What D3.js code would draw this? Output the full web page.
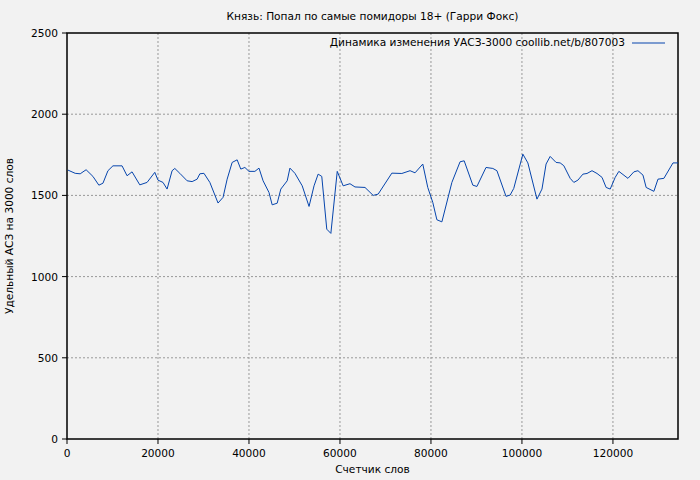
<!DOCTYPE html>
<html><head><meta charset="utf-8">
<script src="https://cdn.jsdelivr.net/npm/d3@7"></script>
<style>body{margin:0;background:#f2f2f2}text{font-family:"DejaVu Sans",sans-serif;font-size:10.6px;fill:#000}</style>
</head><body>
<svg id="c" width="700" height="480"></svg>
<script>
// данные: счетчик слов и удельный АСЗ
const words = [200,1800,2900,4200,5700,7000,7900,9000,10100,12100,13200,14300,16000,17600,19300,20000,21100,22000,23100,23700,24800,26400,27500,28600,29200,30100,31400,33200,34300,35200,36300,37400,38200,39100,40000,41300,42200,43100,44400,45100,46200,47000,48400,49000,50100,51700,53200,54300,55200,56000,57100,58000,59400,60700,62200,63300,65500,67300,68400,71400,73600,75400,76500,78200,79300,80400,81300,82400,84600,86400,87300,89200,90100,92100,93600,94500,96500,97400,98200,100200,101300,103300,104400,105300,106200,107500,108400,109200,110600,111400,112300,113400,114300,115400,116500,117600,118500,119400,120500,121300,123300,124600,125500,126600,127300,129000,129900,131200,133200,134300];
const asz = [1656,1636,1633,1658,1617,1563,1575,1652,1682,1682,1621,1645,1565,1580,1642,1594,1580,1539,1652,1666,1636,1590,1585,1600,1633,1636,1580,1453,1488,1600,1703,1719,1662,1672,1648,1648,1668,1590,1518,1442,1452,1539,1590,1668,1636,1559,1432,1559,1631,1617,1292,1266,1648,1559,1572,1552,1549,1500,1508,1637,1635,1652,1639,1693,1549,1457,1350,1337,1580,1707,1713,1563,1555,1672,1666,1652,1494,1502,1543,1754,1700,1477,1539,1693,1740,1703,1700,1683,1605,1580,1594,1631,1635,1652,1635,1611,1549,1539,1611,1648,1605,1645,1652,1625,1549,1525,1600,1605,1700,1700];
const xTicks = [0,20000,40000,60000,80000,100000,120000];
const yTicks = [0,500,1000,1500,2000,2500];
const title = "Князь: Попал по самые помидоры 18+ (Гарри Фокс)";
const legendText = "Динамика изменения УАСЗ-3000 coollib.net/b/807003";

const svg = d3.select('#c');
const m = {l:67, r:678, t:33, b:439};
const x = d3.scaleLinear().domain([0,134300]).range([m.l,m.r]);
const y = d3.scaleLinear().domain([0,2500]).range([m.b,m.t]);

svg.append('rect').attr('width',700).attr('height',480).attr('fill','#f2f2f2');

// сетка
svg.selectAll('.gx').data(xTicks.slice(1)).enter().append('line')
    .attr('x1',d=>x(d)).attr('x2',d=>x(d)).attr('y1',m.t).attr('y2',m.b)
    .attr('stroke','#999').attr('stroke-dasharray','2,2');
svg.selectAll('.gy').data(yTicks.slice(1,-1)).enter().append('line')
    .attr('y1',d=>y(d)).attr('y2',d=>y(d)).attr('x1',m.l).attr('x2',m.r)
    .attr('stroke','#999').attr('stroke-dasharray','2,2');

svg.append('rect').attr('x',m.l).attr('y',m.t).attr('width',m.r-m.l).attr('height',m.b-m.t)
    .attr('fill','none').attr('stroke','#000').attr('stroke-width',1.5);

// тики
svg.selectAll('.tx').data(xTicks).enter().append('line')
    .attr('x1',d=>x(d)).attr('x2',d=>x(d)).attr('y1',m.b).attr('y2',m.b+5).attr('stroke','#000');
svg.selectAll('.lx').data(xTicks).enter().append('text')
    .attr('x',d=>x(d)).attr('y',m.b+18).attr('text-anchor','middle').text(d=>d);
svg.selectAll('.ty').data(yTicks).enter().append('line')
    .attr('y1',d=>y(d)).attr('y2',d=>y(d)).attr('x1',m.l-5).attr('x2',m.l).attr('stroke','#000');
svg.selectAll('.ly').data(yTicks).enter().append('text')
    .attr('x',m.l-9).attr('y',d=>y(d)+4).attr('text-anchor','end').text(d=>d);

svg.append('text').attr('x',(m.l+m.r)/2).attr('y',20).attr('text-anchor','middle').text(title);
svg.append('text').attr('x',(m.l+m.r)/2).attr('y',473).attr('text-anchor','middle').text('Счетчик слов');
svg.append('text').attr('transform','translate(13,'+((m.t+m.b)/2)+') rotate(-90)')
    .attr('text-anchor','middle').text('Удельный АСЗ на 3000 слов');

// легенда
svg.append('text').attr('x',625).attr('y',46).attr('text-anchor','end').text(legendText);
svg.append('line').attr('x1',632).attr('x2',665).attr('y1',43).attr('y2',43).attr('stroke','#0645ad');

const line = d3.line().x((d,i)=>x(words[i])).y(d=>y(d));
svg.append('path').datum(asz).attr('d',line).attr('fill','none').attr('stroke','#0645ad').attr('stroke-width',1);
</script>
</body></html>
